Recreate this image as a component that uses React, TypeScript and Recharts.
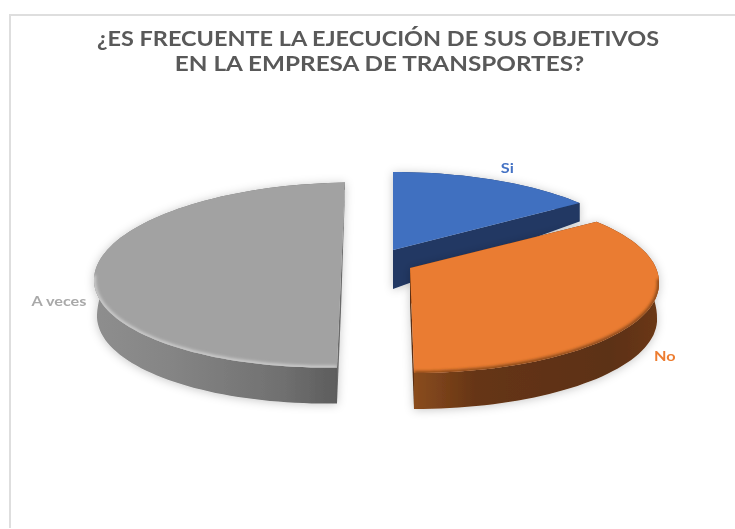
import React from "react";
import { PieChart, Pie } from "recharts";

const categories = ["Si", "No", "A veces"];
const shares = [15, 35, 50];
const titleLines = ["¿ES FRECUENTE LA EJECUCIÓN DE SUS OBJETIVOS", "EN LA EMPRESA DE TRANSPORTES?"];
const tableRows = categories.map((name, i) => ({ name, value: shares[i] }));

const W = 735, H = 529, CX = 367, CY = 270, R = 249;

const looks = [
  { ax: 26, ay: -20, ex: 26, ey: -6, ry: 92, rs: 1, skew: 0, tiltTop: 0, tiltBot: 0, warp: [0, 0, 54, 48.5], depth: 39, wallIn: 0,
    fill: "#4070c0", text: "#4472c4", edge: "#5a86d0", edgeOp: 0, cut: "#203864",
    wall: [["0", "#203864"], ["1", "#203864"]], lab: [12, -12] },
  { ax: 43, ay: -2, ex: 43, ey: 12, ry: 91, rs: 1, skew: 0, tiltTop: 0, tiltBot: 4, warp: [54, 48.5, 180, 180], depth: 36, wallIn: 2,
    fill: "#ea7b30", text: "#ed7d31", edge: "#7f4318", edgeOp: 0.95, cut: "#5a2f12",
    wall: [["0", "#8a4c1f"], ["0.25", "#663514"], ["0.8", "#5c3012"], ["1", "#6b3816"]], lab: [26, 37] },
  { ax: -26, ay: 5, ex: -26, ey: 5, ry: 92.5, rs: 0.992, skew: -3.5, tiltTop: -4, tiltBot: -4, warp: [180, 180, 360, 360], depth: 36, wallIn: 3,
    fill: "#a2a2a2", text: "#a9a9a9", edge: "#d4d4d4", edgeOp: 0.85, cut: "#6a6a6a",
    wall: [["0", "#8e8e8e"], ["0.3", "#858585"], ["0.75", "#707070"], ["1", "#5a5a5a"]], lab: [-35, 23] },
];

const rad = (d: number) => (d * Math.PI) / 180;

function project(i: number, cx: number, cy: number, r: number, theta: number) {
  const g = looks[i];
  const [t0, p0, t1, p1] = g.warp;
  const phi = p0 + ((theta - t0) * (p1 - p0)) / (t1 - t0);
  const u = Math.sin(rad(phi));
  const v = -Math.cos(rad(phi));
  const x = cx + g.ex + r * g.rs * u + (v < 0 ? g.tiltTop : g.tiltBot) * v;
  const y = cy + g.ey + v * g.ry + g.skew * u;
  const d = g.depth * (v < 0 ? 1 + v * 0.8 : 1);
  return { x, y, d, v, u };
}

function arc(i: number, cx: number, cy: number, r: number, a: number, b: number) {
  const pts = [];
  const n = Math.max(4, Math.ceil(Math.abs(b - a) / 2));
  for (let s = 0; s <= n; s++) pts.push(project(i, cx, cy, r, a + ((b - a) * s) / n));
  return pts;
}

const line = (pts: { x: number; y: number }[]) => pts.map((p, j) => `${j ? "L" : "M"}${p.x.toFixed(1)} ${p.y.toFixed(1)}`).join(" ");

function Slice(props: any) {
  const { cx, cy, outerRadius, startAngle, endAngle, index } = props;
  const g = looks[index];
  const a = 90 - startAngle;
  const b = 90 - endAngle;
  const pts = arc(index, cx, cy, outerRadius, a, b);
  const apex = { x: cx + g.ax, y: cy + g.ay };
  const lower = (p: { x: number; y: number; d: number; u: number }) => ({ x: p.x - p.u * g.wallIn, y: p.y + p.d });
  const topPath = line([apex, ...pts]) + " Z";
  const wallPath = line([...pts, ...pts.map(lower).reverse()]) + " Z";
  const first = pts[0];
  const last = pts[pts.length - 1];
  const apexLow = { x: apex.x, y: apex.y + g.depth };
  const cutA = line([apex, first, lower(first), apexLow]) + " Z";
  const cutB = line([apex, last, lower(last), apexLow]) + " Z";
  const rim = pts.filter((p) => p.v > -0.05);
  return (
    <g>
      <defs>
        <linearGradient id={`wall${index}`} x1="0" x2="1" y1="0" y2="0">
          {g.wall.map(([o, c]) => <stop key={o} offset={o as string} stopColor={c as string} />)}
        </linearGradient>
        <clipPath id={`face${index}`}><path d={topPath} /></clipPath>
        <filter id={`soft${index}`} x="-10%" y="-20%" width="120%" height="140%"><feGaussianBlur stdDeviation="1.5" /></filter>
        <filter id={`drop${index}`} x="-10%" y="-15%" width="120%" height="130%">
          <feDropShadow dx="0" dy="1" stdDeviation="5" floodColor="#000" floodOpacity="0.22" />
        </filter>
      </defs>
      <g filter={`url(#drop${index})`}>
        <path d={wallPath} fill={`url(#wall${index})`} />
        <path d={cutA} fill={g.cut} />
        <path d={cutB} fill={g.cut} />
        <path d={topPath} fill={g.fill} />
      </g>
      {g.edgeOp > 0 && rim.length > 1 ? (
        <g clipPath={`url(#face${index})`}>
          <path d={line(rim)} fill="none" stroke={g.edge} strokeOpacity={g.edgeOp} strokeWidth={4} filter={`url(#soft${index})`} />
        </g>
      ) : null}
    </g>
  );
}

function sliceLabel(props: any) {
  const { cx, cy, outerRadius, midAngle, index, name } = props;
  const g = looks[index];
  const p = project(index, cx, cy, outerRadius, 90 - midAngle);
  const x = p.x + g.lab[0];
  const y = p.y + g.lab[1];
  return (
    <text transform={`translate(${x} ${y}) scale(1.3 1)`} textAnchor="middle" dominantBaseline="central"
      fontFamily="Lato, 'Open Sans', sans-serif" fontSize={12.5} fontWeight={700} fill={g.text}>
      {name}
    </text>
  );
}

export default function App() {
  return (
    <div style={{ position: "absolute", left: 0, top: 0, width: W, height: H, background: "#fff", overflow: "hidden", filter: "blur(0.4px)" }}>
      <div style={{ position: "absolute", left: 9, top: 14, width: W, height: 514, borderTop: "2px solid #dedede", borderLeft: "2px solid #dedede", boxSizing: "border-box" }} />
      <PieChart width={W} height={H} margin={{ top: 0, right: 0, bottom: 0, left: 0 }} style={{ position: "absolute", left: 0, top: 0 }}>
        <text transform="translate(378 46) scale(1.173 1)" textAnchor="middle" fontFamily="Lato, 'Open Sans', sans-serif" fontSize={20} fontWeight={700} fill="#595959">
          {titleLines[0]}
        </text>
        <text transform="translate(379.5 71) scale(1.215 1)" textAnchor="middle" fontFamily="Lato, 'Open Sans', sans-serif" fontSize={20} fontWeight={700} fill="#595959">
          {titleLines[1]}
        </text>
        <Pie data={tableRows} dataKey="value" nameKey="name" cx={CX} cy={CY} outerRadius={R} innerRadius={0}
          startAngle={90} endAngle={-270} stroke="none" isAnimationActive={false}
          shape={Slice} label={sliceLabel} labelLine={false} />
      </PieChart>
    </div>
  );
}
